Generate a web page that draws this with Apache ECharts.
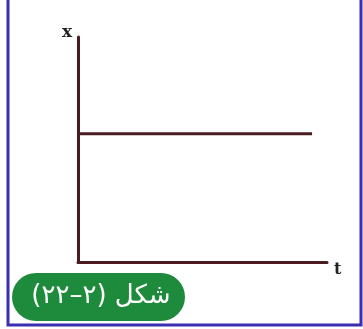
<!DOCTYPE html>
<html>
<head>
<meta charset="utf-8">
<script src="https://cdn.jsdelivr.net/npm/echarts@6/dist/echarts.min.js"></script>
<style>
html, body { margin: 0; padding: 0; background: #fff; }
#chart { width: 363px; height: 329px; }
</style>
</head>
<body>
<div id="chart"></div>
<script>
// x ثابت مع الزمن
var tValues = [0, 9.4];
var xValues = [5.7, 5.7];
var caption = 'شكل (٢–٢٢)';

var chart = echarts.init(document.getElementById('chart'));

var lineColor = '#4a1c22';

var option = {
	animation: false,
	grid: { left: 78, right: 36, top: 37, bottom: 67 },
	xAxis: {
		type: 'value',
		min: 0,
		max: 10,
		name: 't',
		nameLocation: 'end',
		nameGap: 7,
		nameTextStyle: { color: '#222', fontSize: 16, fontWeight: 'bold', fontFamily: 'DejaVu Serif', verticalAlign: 'top', padding: [0, 0, 0, 0] },
		axisLine: { lineStyle: { color: lineColor, width: 3 } },
		axisTick: { show: false },
		axisLabel: { show: false },
		splitLine: { show: false }
	},
	yAxis: {
		type: 'value',
		min: 0,
		max: 10,
		name: 'x',
		nameLocation: 'end',
		nameGap: -4,
		nameTextStyle: { color: '#222', fontSize: 17, fontWeight: 'bold', fontFamily: 'DejaVu Serif', padding: [0, 22, 0, 0] },
		axisLine: { lineStyle: { color: lineColor, width: 3 } },
		axisTick: { show: false },
		axisLabel: { show: false },
		splitLine: { show: false }
	},
	series: [{
		type: 'line',
		data: tValues.map(function(t, i) { return [t, xValues[i]]; }),
		symbol: 'none',
		lineStyle: { color: lineColor, width: 3 }
	}],
	graphic: [{
		type: 'polyline',
		shape: { points: [[8, 0], [8, 325], [361, 325], [361, 0]] },
		style: { stroke: '#3a2fb0', lineWidth: 3, fill: null }
	}, {
		type: 'rect',
		shape: { x: 12, y: 273, width: 173, height: 48, r: 24 },
		style: { fill: '#1e8a3c' }
	}, {
		type: 'text',
		x: 101,
		y: 296,
		style: {
			text: caption,
			fill: '#fff',
			fontSize: 26,
			fontFamily: 'DejaVu Sans',
			align: 'center',
			verticalAlign: 'middle'
		}
	}]
};

chart.setOption(option);
</script>
</body>
</html>
